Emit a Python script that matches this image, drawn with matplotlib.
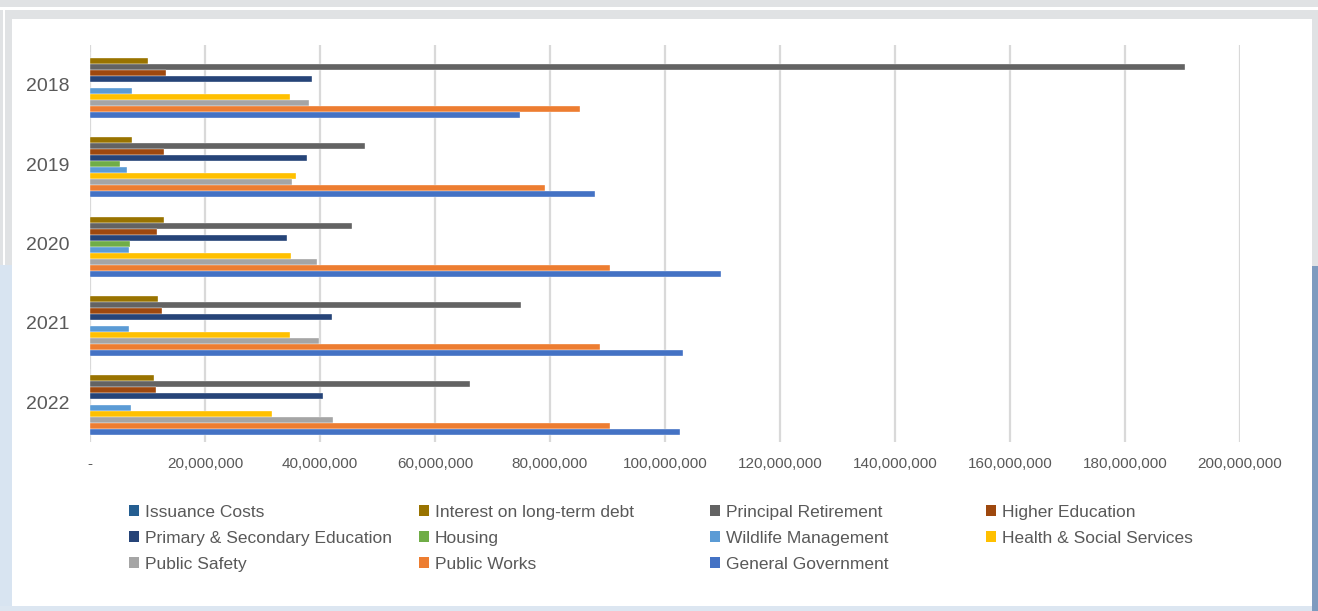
import matplotlib
matplotlib.use('Agg')
import matplotlib.pyplot as plt
from matplotlib.patches import Rectangle, Patch
from matplotlib.ticker import FuncFormatter, MultipleLocator
import numpy as np

# ---------------- data ----------------
years = ['2018', '2019', '2020', '2021', '2022']

series_names = [
    'Issuance Costs', 'Interest on long-term debt', 'Principal Retirement',
    'Higher Education', 'Primary & Secondary Education', 'Housing',
    'Wildlife Management', 'Health & Social Services', 'Public Safety',
    'Public Works', 'General Government',
]

issuance_costs = [0, 0, 0, 0, 0]
interest_debt = [10.1e6, 7.3e6, 12.9e6, 11.8e6, 11.2e6]
principal_retirement = [190.4e6, 47.9e6, 45.5e6, 75.0e6, 66.1e6]
higher_education = [13.2e6, 12.9e6, 11.6e6, 12.6e6, 11.4e6]
primary_secondary = [38.6e6, 37.7e6, 34.3e6, 42.0e6, 40.5e6]
housing = [0, 5.2e6, 6.9e6, 0, 0]
wildlife = [7.3e6, 6.5e6, 6.7e6, 6.7e6, 7.1e6]
health_social = [34.7e6, 35.9e6, 34.9e6, 34.7e6, 31.7e6]
public_safety = [38.1e6, 35.2e6, 39.4e6, 39.9e6, 42.3e6]
public_works = [85.2e6, 79.2e6, 90.4e6, 88.7e6, 90.4e6]
general_government = [74.8e6, 87.8e6, 109.8e6, 103.1e6, 102.6e6]

series_values = [
    issuance_costs, interest_debt, principal_retirement, higher_education,
    primary_secondary, housing, wildlife, health_social, public_safety,
    public_works, general_government,
]

colors = ['#255E91', '#997300', '#636363', '#9E480E', '#264478', '#70AD47',
          '#5B9BD5', '#FFC000', '#A5A5A5', '#ED7D31', '#4472C4']

# ---------------- figure ----------------
W, H = 1318, 611
fig = plt.figure(figsize=(W / 100, H / 100), dpi=100)
fig.patch.set_facecolor('#E0E2E4')


def px_rect(x0, y0, x1, y1, color, z=-10):
    r = Rectangle((x0 / W, 1 - y1 / H), (x1 - x0) / W, (y1 - y0) / H,
                  transform=fig.transFigure, facecolor=color, edgecolor='none',
                  zorder=z)
    fig.add_artist(r)


# decorative frame
px_rect(0, 7, W, 10, '#FFFFFF')
px_rect(3, 7, 5, H, '#FFFFFF')
px_rect(0, 265, 12, H, '#D8E4F1')
px_rect(0, 606, 1312, H, '#DCE6F1')
px_rect(1312, 266, W, H, '#7E9BBF')
px_rect(12, 19, 1312, 606, '#FFFFFF')

# axes placement (pixels)
ax_left, ax_right = 90, 1240
ax_top, ax_bottom = 45.3, 442.0
ax = fig.add_axes([ax_left / W, 1 - ax_bottom / H,
                   (ax_right - ax_left) / W, (ax_bottom - ax_top) / H])
ax.set_facecolor('none')

n = len(series_names)
bar_h = 0.0756
y = np.arange(len(years))
offsets = (np.arange(n) - (n - 1) / 2) * bar_h

for i, (name, vals, c) in enumerate(zip(series_names, series_values, colors)):
    ax.barh(y + offsets[i], vals, height=bar_h, color=c, edgecolor='white',
            linewidth=0.25, label=name, zorder=3)

ax.set_xlim(0, 200e6)
ax.set_ylim(4.5, -0.5)
ax.xaxis.set_major_locator(MultipleLocator(20e6))
ax.xaxis.set_major_formatter(FuncFormatter(lambda v, p: '-' if v == 0 else f'{v:,.0f}'))
ax.set_yticks(y)
ax.set_yticklabels(years)
ax.grid(axis='x', color='#D9D9D9', linewidth=1.6, zorder=0)
ax.set_axisbelow(True)
for s in ax.spines.values():
    s.set_visible(False)
ax.tick_params(axis='x', length=0, pad=11, labelsize=11, labelcolor='#595959')
ax.tick_params(axis='y', length=0, pad=14.5, labelsize=14, labelcolor='#595959')
for lab in ax.get_xticklabels() + ax.get_yticklabels():
    lab.set_fontfamily('Liberation Sans')

# ---------------- legend (4 columns, row-major order) ----------------
col_x = [133, 423, 714, 990]
legend_top = 505
for ci in range(4):
    idxs = [k for k in range(n) if k % 4 == ci]
    handles = [Patch(facecolor=colors[k], edgecolor='none') for k in idxs]
    labels = [series_names[k] for k in idxs]
    leg = fig.legend(handles, labels, loc='upper left',
                     bbox_to_anchor=((col_x[ci] - 4) / W, 1 - legend_top / H),
                     frameon=False, ncol=1, borderaxespad=0, borderpad=0,
                     handlelength=0.6, handleheight=0.6, handletextpad=0.3,
                     labelspacing=0.62,
                     prop={'family': 'Liberation Sans', 'size': 12.5})
    for t in leg.get_texts():
        t.set_color('#595959')

fig.savefig('out.png', dpi=100, facecolor=fig.get_facecolor())
